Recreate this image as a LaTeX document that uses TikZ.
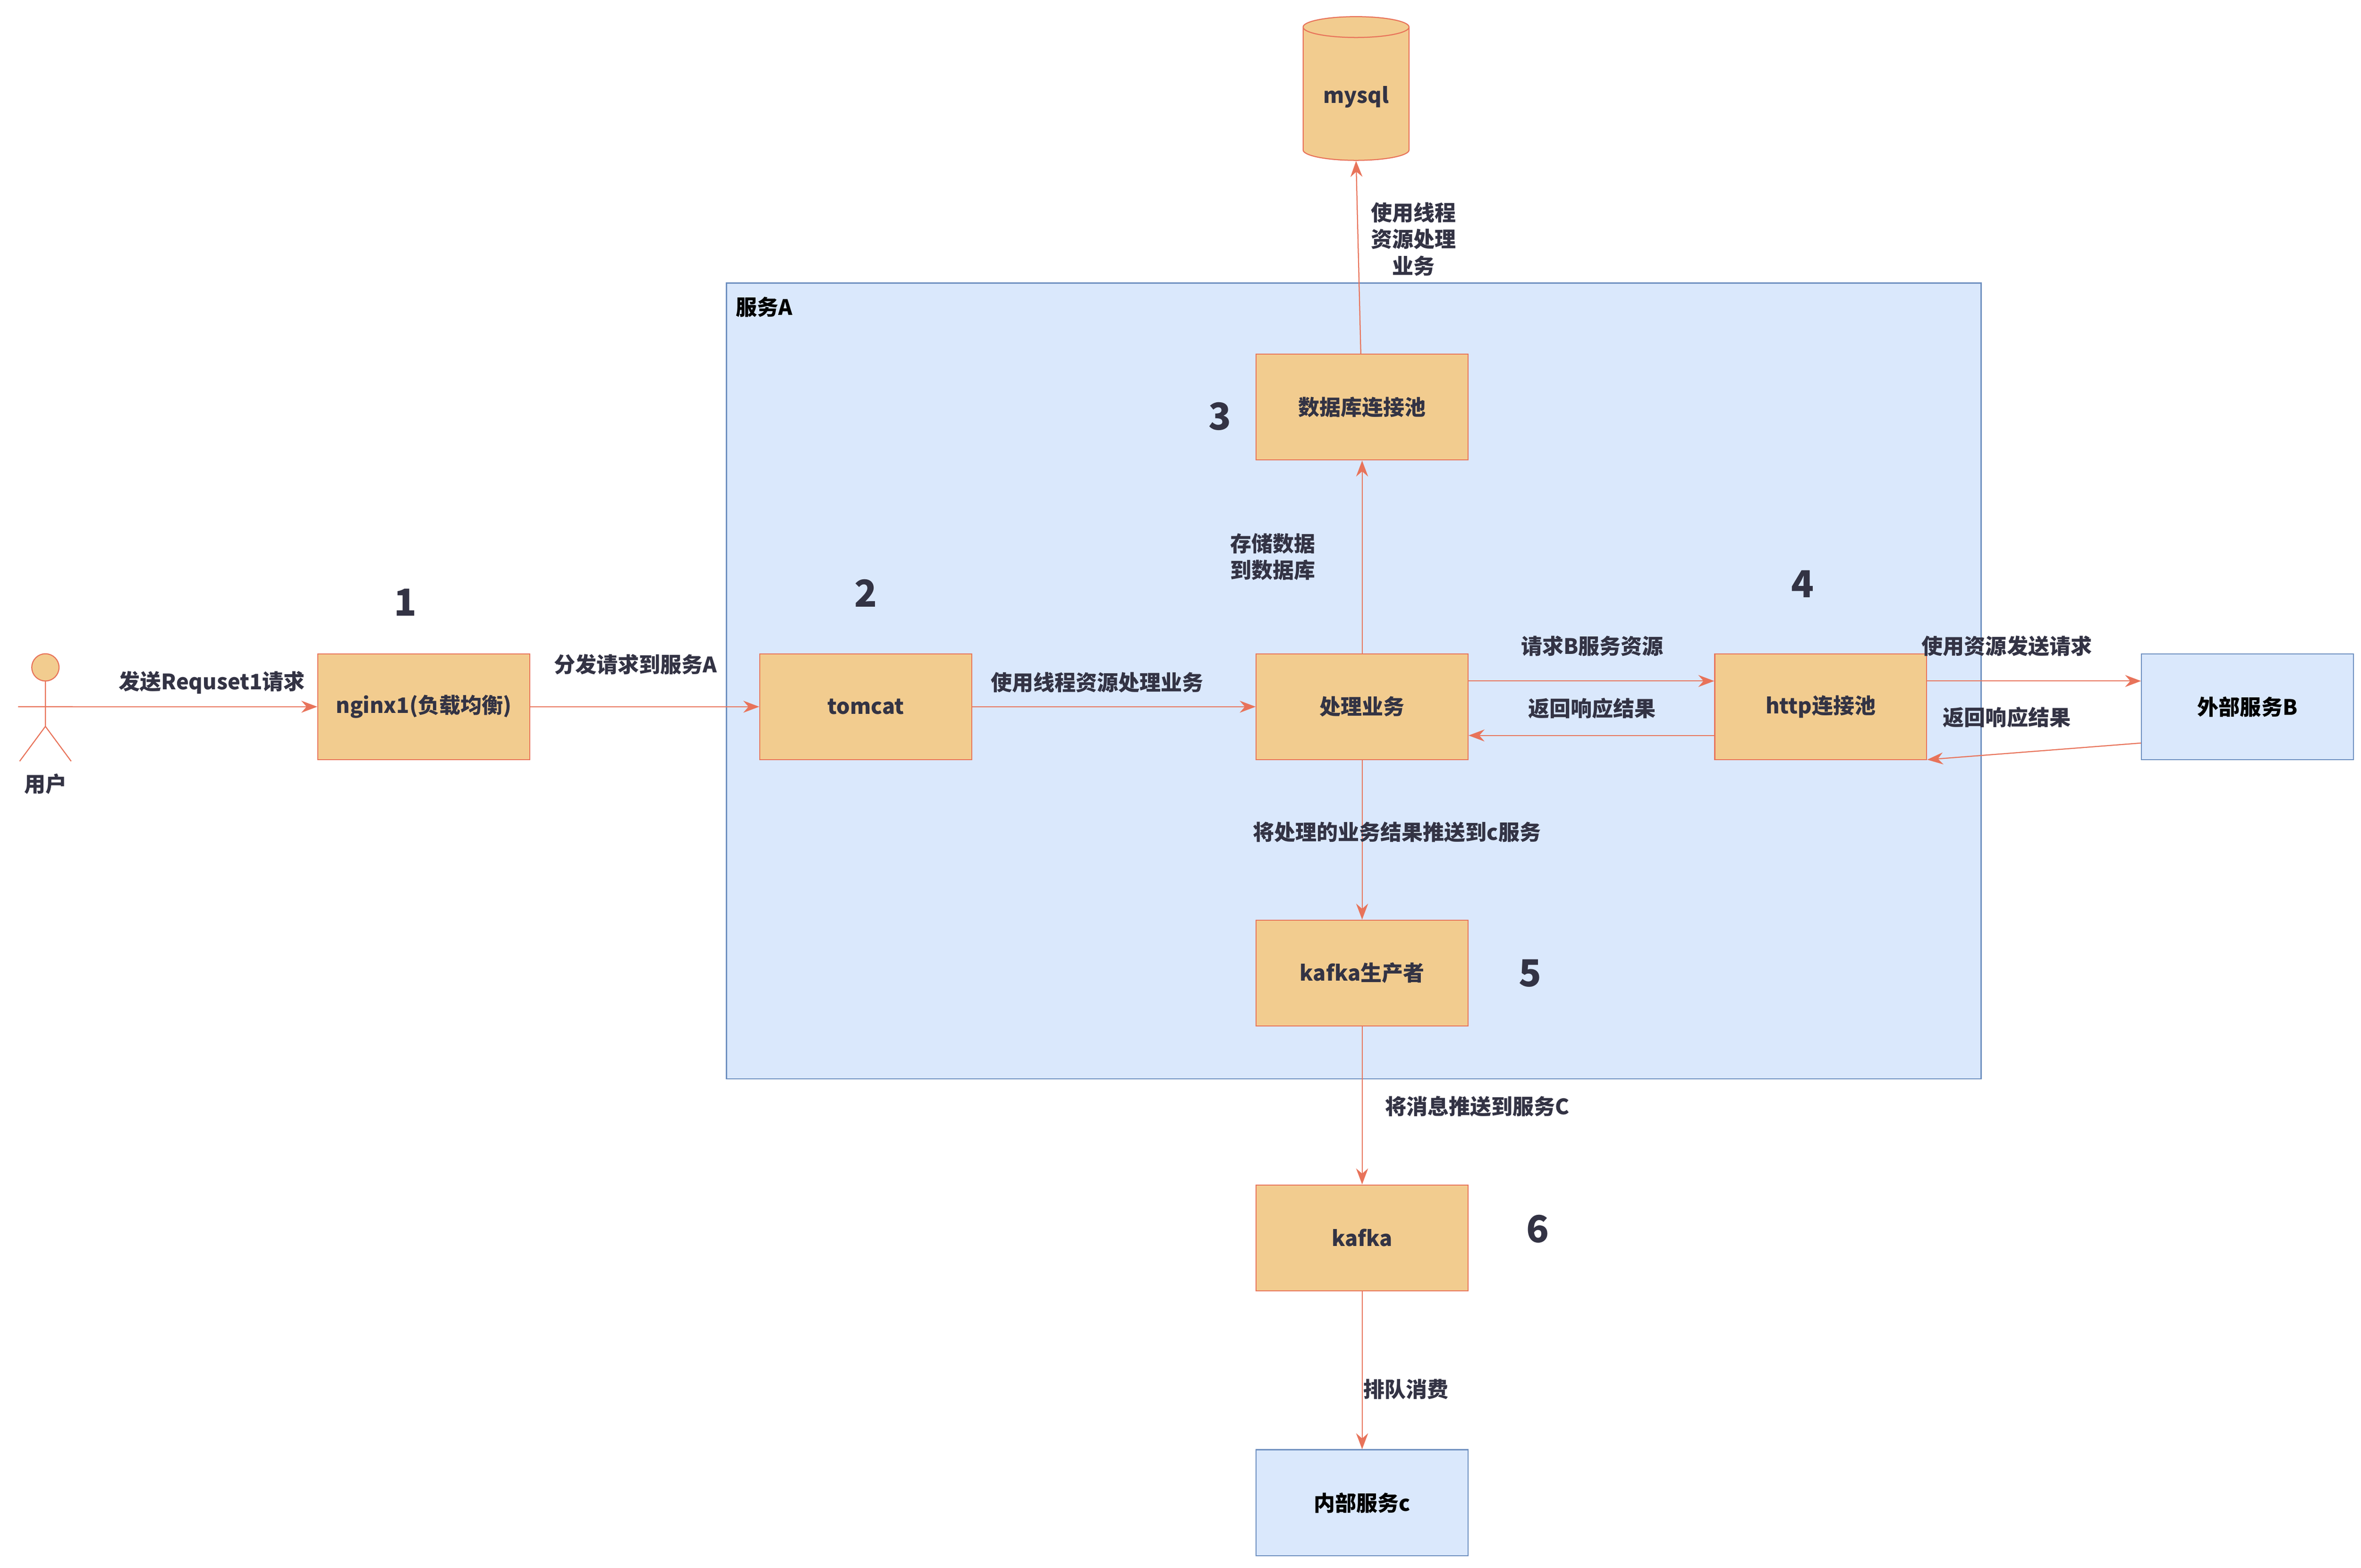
\documentclass[tikz,border=0pt]{standalone}
\usepackage{fontspec}
\setmainfont{Noto Sans CJK SC}
\usetikzlibrary{positioning, shapes.geometric, arrows.meta}
\definecolor{boxfill}{HTML}{F2CC8F}
\definecolor{boxline}{HTML}{E8735A}
\definecolor{bluefill}{HTML}{DAE8FC}
\definecolor{blueline}{HTML}{6C8EBF}
\definecolor{txt}{HTML}{333344}
\begin{document}
\begin{tikzpicture}[x=0.02cm, y=-0.02cm, font=\bfseries\fontsize{8}{10}\selectfont, text=txt]
% Define block styles
\tikzset{
  block/.style={rectangle, draw=boxline, fill=boxfill, minimum width=2.8cm, minimum height=1.4cm, inner sep=0pt},
  outer/.style={rectangle, draw=blueline, fill=bluefill, minimum width=2.8cm, minimum height=1.4cm, inner sep=0pt, text=black},
  line/.style={draw=boxline, -{Stealth[length=6pt]}},
  num/.style={font=\bfseries\fontsize{14}{16}\selectfont},
  lbl/.style={align=center, fill=none}
}
\useasboundingbox (0,0) rectangle (1560,1036);
% container
\draw[draw=blueline, fill=bluefill] (480,187) rectangle (1309,713);
\node[anchor=west, text=black] at (480,203) {服务A};
% Place nodes
\node[cylinder, shape border rotate=90, aspect=0.25, draw=boxline, fill=boxfill, minimum width=1.4cm, minimum height=1.9cm] (mysql) at (896,64) {mysql};
\node[block] (pool) at (900,269) {数据库连接池};
\node[block] (nginx) at (280,467) {nginx1(负载均衡)};
\node[block] (tomcat) at (572,467) {tomcat};
\node[block] (biz) at (900,467) {处理业务};
\node[block] (http) at (1203,467) {http连接池};
\node[outer] (extb) at (1485,467) {外部服务B};
\node[block] (producer) at (900,643) {kafka生产者};
\node[block] (kafka) at (900,818) {kafka};
\node[outer] (innerc) at (900,993) {内部服务c};
% actor
\coordinate (user) at (30,467);
\draw[draw=boxline, fill=boxfill] (30,441) circle (9);
\draw[draw=boxline] (30,450) -- (30,480) (12,467) -- (48,467) (30,480) -- (13,503) (30,480) -- (47,503);
\node at (30,518) {用户};
% numbers
\node[num] at (268,398) {1};
\node[num] at (572,392) {2};
\node[num] at (806,275) {3};
\node[num] at (1191,386) {4};
\node[num] at (1011,643) {5};
\node[num] at (1016,812) {6};
% connectors
\path[line] (user) -- (nginx.west);
\node[lbl] at (140,451) {发送Requset1请求};
\path[line] (nginx) -- (tomcat);
\node[lbl] at (420,439) {分发请求到服务A};
\path[line] (tomcat) -- (biz);
\node[lbl] at (725,451) {使用线程资源处理业务};
\path[line] (biz) -- (pool);
\node[lbl] at (841,368) {存储数据\\到数据库};
\path[line] (pool) -- (mysql.south);
\node[lbl] at (934,158) {使用线程\\资源处理\\业务};
\path[line] ([yshift=0.34cm]biz.east) -- ([yshift=0.34cm]http.west);
\node[lbl] at (1052,427) {请求B服务资源};
\path[line] ([yshift=-0.38cm]http.west) -- ([yshift=-0.38cm]biz.east);
\node[lbl] at (1052,468) {返回响应结果};
\path[line] ([yshift=0.34cm]http.east) -- ([yshift=0.34cm]extb.west);
\node[lbl] at (1326,427) {使用资源发送请求};
\path[line] ([yshift=-0.48cm]extb.west) -- ([yshift=-0.7cm]http.east);
\node[lbl] at (1326,474) {返回响应结果};
\path[line] (biz) -- (producer);
\node[lbl] at (923,550) {将处理的业务结果推送到c服务};
\path[line] (producer) -- (kafka);
\node[lbl] at (976,731) {将消息推送到服务C};
\path[line] (kafka) -- (innerc);
\node[lbl] at (929,918) {排队消费};
\end{tikzpicture}
\end{document}
